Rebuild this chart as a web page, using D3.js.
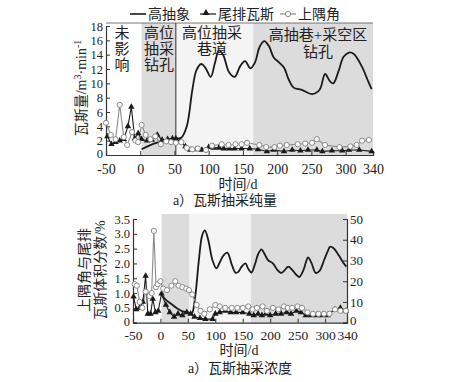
<!DOCTYPE html>
<html><head><meta charset="utf-8">
<script src="https://cdn.jsdelivr.net/npm/d3@7"></script>
<style>body{margin:0;background:#fff}svg{display:block}text{font-family:"Liberation Serif","Noto Sans CJK SC",serif;fill:#222}</style>
</head><body><svg id="c" width="450" height="382"></svg>
<script>
// ---------- data ----------
const xTicks = [-50,0,50,100,150,200,250,300,340];
const legendNames = ["高抽象","尾排瓦斯","上隅角"];
const regions = [[2,53,"#dcdcdc"],[53,165,"#f4f4f4"],[165,340,"#dcdcdc"]];
// top: flow (m3/min)
const topGaoX = [2,20,40,52,60,68,76,82,89,95,103,109,115,121,130,138,146,153,161,168,174,181,188,195,203,210,217,224,236,251,262,270,277,282,290,297,305,312,324,332,338];
const topGaoY = [0.8,1.6,2.1,2.3,2.4,4,9,11.8,12.7,12.2,10.9,12.8,14.6,14,11.5,10.9,12.4,13.1,12.1,13,15,15.9,15.2,13.6,12.9,12.2,10.5,9.4,9.1,8.5,9.1,11.3,10.3,10.0,11.8,13.7,14.3,14.1,12.3,10.5,9.2];
const topWeiX = [-48,-42,-36,-30,-24,-18,-13,-8,-3,2,10,17,25,32,40,47,52,58,66,73,82,90,100,107,115,122,130,138,148,160,172,185,195,210,222,234,245,258,266,280,295,305,320,338];
const topWeiY = [2.6,1.5,1.8,2.0,2.2,4.0,6.7,2.3,3.0,2.2,2.0,2.1,2.8,2.1,2.2,2.3,2.3,1.9,1.2,0.7,0.8,0.7,1.1,1.0,1.0,0.9,0.9,0.9,0.9,0.9,0.8,0.5,0.7,0.5,0.7,0.6,0.7,0.7,0.5,0.6,0.6,0.7,0.7,0.5];
const topShangX = [-50,-43,-36,-30,-24,-19,-12,-7,-3,2,8,15,22,30,38,45,52,60,68,76,84,96,105,119,129,139,148,156,174,184,196,204,214,230,241,251,258,270,291,307,316,324,334];
const topShangY = [4.5,2.8,2.2,7.0,2.5,1.4,3.2,2.0,1.8,4.2,2.8,2.2,2.6,1.5,1.9,1.8,1.7,1.8,1.0,0.8,0.9,0.7,1.3,1.5,1.4,1.5,1.5,1.7,1.4,1.1,1.1,1.3,1.4,1.5,1.6,1.7,2.2,1.4,1.1,1.2,1.4,2.0,2.1];
const topYTicks = [0,2,4,6,8,10,12,14,16,18];
// bottom: concentration (%)
const botGaoX = [0,10,20,30,40,50,57,63,70,76,81,87,95,102,108,115,122,130,137,142,148,155,160,166,172,178,184,190,196,205,213,221,227,233,240,248,253,260,265,269,275,283,290,298,305,309,315,325,333,339];
const botGaoY = [14,11,9,7,5.5,5,4.5,12,30,42,44.5,40,30,26.2,29,32.5,33.8,28,24.1,24.5,27,28.6,26,24.2,28,33,35.4,33,30.2,28.6,25.5,24,25.5,27,25.5,23,22,25,29,31.5,29,24,25,30,34.5,36.6,36,32.5,29,27];
const botWeiX = [-49,-44,-38,-32,-27,-23,-18,-14,-9,-4,2,10,17,25,32,40,48,55,62,72,82,95,100,108,118,128,138,150,162,170,178,185,192,200,210,220,230,238,248,256,265,275,285,295,305,318,328,338];
const botWeiY = [0.88,0.45,0.5,0.7,1.58,0.3,0.3,0.8,0.35,0.4,0.98,0.6,0.35,0.2,0.3,0.25,0.35,0.3,0.2,0.15,0.12,0.12,0.3,0.35,0.4,0.35,0.35,0.35,0.3,0.25,0.3,0.25,0.3,0.25,0.3,0.3,0.35,0.3,0.4,0.35,0.25,0.25,0.25,0.25,0.25,0.45,0.5,0.4];
const botShangX = [-47,-43,-38,-33,-27,-20,-16,-12,-8,-5,0,5,12,20,27,33,40,47,52,58,66,73,80,90,100,108,118,130,140,150,160,168,176,186,194,205,215,225,232,240,250,258,268,278,288,298,308,318,328,338];
const botShangY = [1.3,1.25,0.7,0.5,1.05,0.9,1.0,3.1,1.2,1.3,1.4,1.15,1.1,1.25,1.4,1.25,1.2,1.15,1.1,0.95,0.6,0.4,0.3,0.45,0.6,0.55,0.5,0.5,0.5,0.5,0.55,0.45,0.5,0.55,0.4,0.5,0.45,0.55,0.5,0.5,0.55,0.5,0.35,0.3,0.3,0.3,0.3,0.45,0.4,0.4];
const botLTicks = [0,0.5,1,1.5,2,2.5,3,3.5];
const botRTicks = [0,10,20,30,40,50];

const svg = d3.select("#c");
const zip = (xs,ys)=>xs.map((x,i)=>[x,ys[i]]);

function panel(o){
  const g = svg.append("g");
  const [y0,y1] = o.yL.range();
  regions.forEach(r=>{
    g.append("rect").attr("x",o.x(r[0])).attr("width",o.x(r[1])-o.x(r[0]))
     .attr("y",o.top).attr("height",y0-o.top).attr("fill",r[2]);
  });
  if(o.divider!=null) g.append("line").attr("x1",o.x(o.divider)).attr("x2",o.x(o.divider))
     .attr("y1",o.top).attr("y2",y0).attr("stroke","#333").attr("stroke-width",1);
  const ax = g.append("g").attr("transform",`translate(0,${y0})`)
    .call(d3.axisBottom(o.x).tickValues(xTicks).tickSize(-4).tickPadding(o.xPad).tickFormat(d=>d<0?"-"+(-d):d));
  const ay = g.append("g").attr("transform",`translate(${o.x.range()[0]},0)`)
    .call(d3.axisLeft(o.yL).tickValues(o.yLT).tickSize(-4).tickPadding(3).tickFormat(o.fmtL));
  [ax,ay].forEach(a=>{a.select(".domain").attr("stroke","#333").attr("stroke-width",1.2);
    a.selectAll(".tick line").attr("stroke","#333");
    a.selectAll("text").attr("fill","#222").attr("font-family","Liberation Serif");});
  ax.selectAll("text").attr("font-size",o.fs);
  ay.selectAll("text").attr("font-size",12.5);
  ay.selectAll(".tick").filter(d=>d===0).select("text").attr("dy","0.2em");
  if(o.yR){
    const ar = g.append("g").attr("transform",`translate(${o.x.range()[1]},0)`)
      .call(d3.axisRight(o.yR).tickValues(botRTicks).tickSize(-4).tickPadding(3));
    ar.select(".domain").attr("stroke","#333").attr("stroke-width",1.2);
    ar.selectAll(".tick line").attr("stroke","#333");
    ar.selectAll("text").attr("font-size",13).attr("fill","#222").attr("font-family","Liberation Serif");
    ar.selectAll(".tick").filter(d=>d===0).select("text").attr("dy","0.1em");
  }
  if(o.frame){
    g.append("line").attr("x1",o.x.range()[0]).attr("x2",o.x.range()[1]).attr("y1",o.top).attr("y2",o.top).attr("stroke","#555").attr("stroke-width",0.8);
  }
  const yG = o.yR || o.yL;
  g.append("path").datum(zip(o.gaoX,o.gaoY))
   .attr("d",d3.line().x(d=>o.x(d[0])).y(d=>yG(d[1])).curve(d3.curveCatmullRom.alpha(0.5)))
   .attr("fill","none").attr("stroke","#1a1a1a").attr("stroke-width",1.8);
  const sh = zip(o.shX,o.shY);
  g.append("path").datum(sh).attr("d",d3.line().x(d=>o.x(d[0])).y(d=>o.yL(d[1])))
   .attr("fill","none").attr("stroke","#8a8a8a").attr("stroke-width",1.1);
  const we = zip(o.weX,o.weY);
  g.append("path").datum(we).attr("d",d3.line().x(d=>o.x(d[0])).y(d=>o.yL(d[1])))
   .attr("fill","none").attr("stroke","#1a1a1a").attr("stroke-width",1.1);
  g.selectAll(".tri").data(we).join("path")
   .attr("d",d3.symbol(d3.symbolTriangle,18)())
   .attr("transform",d=>`translate(${o.x(d[0])},${o.yL(d[1])})`).attr("fill","#1a1a1a");
  g.selectAll(".cir").data(sh).join("circle")
   .attr("cx",d=>o.x(d[0])).attr("cy",d=>o.yL(d[1])).attr("r",2.6)
   .attr("fill","#fff").attr("stroke","#8a8a8a").attr("stroke-width",1);
  return g;
}

const xT = d3.scaleLinear([-50,340],[106,373]);
const yT = d3.scaleLinear([0,18],[155,26]);
panel({x:xT,yL:yT,yLT:topYTicks,fmtL:d=>d,top:23,divider:52,frame:true,xPad:9,fs:14,
  gaoX:topGaoX,gaoY:topGaoY,weX:topWeiX,weY:topWeiY,shX:topShangX,shY:topShangY});

const xB = d3.scaleLinear([-50,340],[133,347]);
const yBL = d3.scaleLinear([0,3.5],[322.7,219]);
const yBR = d3.scaleLinear([0,50],[322.7,219]);
panel({x:xB,yL:yBL,yR:yBR,yLT:botLTicks,fmtL:d=>d===0?"0":d.toFixed(1),top:214,divider:null,frame:false,xPad:8,fs:13.5,
  gaoX:botGaoX,gaoY:botGaoY,weX:botWeiX,weY:botWeiY,shX:botShangX,shY:botShangY});

// legend
const lg = svg.append("g");
lg.append("line").attr("x1",130).attr("x2",146).attr("y1",14).attr("y2",14).attr("stroke","#1a1a1a").attr("stroke-width",1.6);
lg.append("text").attr("x",148).attr("y",19).attr("font-size",14).text(legendNames[0]);
lg.append("line").attr("x1",200).attr("x2",216).attr("y1",14).attr("y2",14).attr("stroke","#1a1a1a").attr("stroke-width",1.2);
lg.append("path").attr("d",d3.symbol(d3.symbolTriangle,22)()).attr("transform","translate(206,13)").attr("fill","#1a1a1a");
lg.append("text").attr("x",218).attr("y",19).attr("font-size",14).text(legendNames[1]);
lg.append("line").attr("x1",280).attr("x2",296).attr("y1",14).attr("y2",14).attr("stroke","#8a8a8a").attr("stroke-width",1.2);
lg.append("circle").attr("cx",288).attr("cy",14).attr("r",2.6).attr("fill","#fff").attr("stroke","#8a8a8a");
lg.append("text").attr("x",298).attr("y",19).attr("font-size",14).text(legendNames[2]);

function stack(lines,x,y,lh){
  lines.forEach((t,i)=>svg.append("text").attr("x",x).attr("y",y+i*lh).attr("text-anchor","middle").attr("font-size",15).text(t));
}
stack(["未","影","响"],122,38,16);
stack(["高位","抽采","钻孔"],159,38,16);
stack(["高位抽采","巷道"],212,38,16);
stack(["高抽巷+采空区","钻孔"],318,40,17);

svg.append("text").attr("transform","translate(86,88) rotate(-90)").attr("text-anchor","middle").attr("font-size",14)
  .html('瓦斯量/m<tspan dy="-5" font-size="10">3</tspan><tspan dy="5">·min</tspan><tspan dy="-5" font-size="10">-1</tspan>');
svg.append("text").attr("x",238).attr("y",189).attr("text-anchor","middle").attr("font-size",14).text("时间/d");
svg.append("text").attr("x",225).attr("y",205).attr("text-anchor","middle").attr("font-size",14).text("a）瓦斯抽采纯量");
svg.append("text").attr("transform","translate(89,270) rotate(-90)").attr("text-anchor","middle").attr("font-size",14).text("上隅角与尾排");
svg.append("text").attr("transform","translate(105,270) rotate(-90)").attr("text-anchor","middle").attr("font-size",14).text("瓦斯体积分数/%");
svg.append("text").attr("x",239).attr("y",355).attr("text-anchor","middle").attr("font-size",14).text("时间/d");
svg.append("text").attr("x",240).attr("y",373).attr("text-anchor","middle").attr("font-size",14).text("a）瓦斯抽采浓度");
</script></body></html>
